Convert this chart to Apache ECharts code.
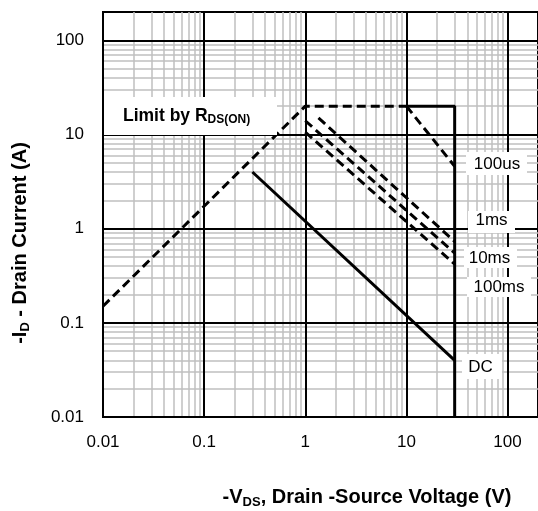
<!DOCTYPE html>
<html><head><meta charset="utf-8">
<script src="https://cdn.jsdelivr.net/npm/echarts@6/dist/echarts.min.js"></script>
<style>html,body{margin:0;padding:0;background:#fff}#c{width:538px;height:511px}</style>
</head><body><div id="c"></div>
<script>
// ---- data ----
const xTicks = [0.01, 0.1, 1, 10, 100];
const xTickLabels = ['0.01', '0.1', '1', '10', '100'];
const yTicks = [0.01, 0.1, 1, 10, 100];
const yTickLabels = ['0.01', '0.1', '1', '10', '100'];
const minorMultipliers = [2, 3, 4, 5, 6, 7, 8, 9];
const minorDecades = [0.01, 0.1, 1, 10];

const limitRds = [[0.01, 0.15], [1, 20], [10, 20]];
const pulse100us = [[10, 20], [30, 4.6]];
const pulse1ms = [[1.35, 15], [30, 0.73]];
const pulse10ms = [[1, 14], [30, 0.55]];
const pulse100ms = [[1, 10.6], [30, 0.42]];
const dcLine = [[0.3, 4], [30, 0.04]];
const boundary = [[10, 20], [30, 20], [30, 0.01]];

const FONT = "'Liberation Sans', Arial, sans-serif";
const minorVals = [];
minorDecades.forEach(d => minorMultipliers.forEach(m => minorVals.push(+(m * d).toPrecision(3))));

function labelFor(ticks, labels) {
  return function (v) {
    for (let i = 0; i < ticks.length; i++) {
      if (Math.abs(Math.log10(v) - Math.log10(ticks[i])) < 1e-6) return labels[i];
    }
    return '';
  };
}

const dash = { color: '#000', width: 3, type: [9, 5] };
const solid = { color: '#000', width: 3, type: 'solid' };

function curve(name, data, style) {
  return { name, type: 'line', data, showSymbol: false, symbol: 'none', lineStyle: style, z: 5, silent: true };
}

function titleRich(main, sub) {
  return {
    a: { fontSize: main, fontWeight: 'bold', fontFamily: FONT, fill: '#000', lineHeight: 24 },
    s: { fontSize: sub, fontWeight: 'bold', fontFamily: FONT, fill: '#000', lineHeight: 12, verticalAlign: 'bottom' }
  };
}

const chart = echarts.init(document.getElementById('c'), null, { renderer: 'canvas' });
chart.setOption({
  animation: false,
  backgroundColor: '#fff',
  grid: { left: 103, right: -1, top: 12, bottom: 94, show: true, borderColor: '#000', borderWidth: 2, backgroundColor: 'transparent' },
  xAxis: {
    type: 'log', logBase: 10, min: 0.01, max: 200,
    axisLine: { show: false }, axisTick: { show: false }, splitLine: { show: false },
    axisLabel: { formatter: labelFor(xTicks, xTickLabels), fontSize: 17, color: '#000', fontFamily: FONT, margin: 17, showMaxLabel: false }
  },
  yAxis: {
    type: 'log', logBase: 10, min: 0.01, max: 200,
    axisLine: { show: false }, axisTick: { show: false }, splitLine: { show: false },
    axisLabel: { formatter: labelFor(yTicks, yTickLabels), fontSize: 17, color: '#000', fontFamily: FONT, margin: 19, showMaxLabel: false }
  },
  series: [
    {
      type: 'line', data: [], silent: true, z: 1,
      markLine: {
        silent: true, symbol: 'none', animation: false, label: { show: false },
        lineStyle: { color: '#bfbfbf', width: 1.5, type: 'solid' },
        data: minorVals.map(v => ({ xAxis: v })).concat(minorVals.map(v => ({ yAxis: v })))
      }
    },
    {
      type: 'line', data: [], silent: true, z: 2,
      markLine: {
        silent: true, symbol: 'none', animation: false, label: { show: false },
        lineStyle: { color: '#000', width: 2, type: 'solid' },
        data: xTicks.map(v => ({ xAxis: v })).concat(yTicks.map(v => ({ yAxis: v })))
      }
    },
    curve('Limit by RDS(ON)', limitRds, dash),
    curve('100us', pulse100us, dash),
    curve('1ms', pulse1ms, dash),
    curve('10ms', pulse10ms, dash),
    curve('100ms', pulse100ms, dash),
    curve('DC', dcLine, solid),
    curve('boundary', boundary, solid)
  ],
  graphic: [
    { type: 'rect', z: 100, shape: { x: 104, y: 97, width: 173, height: 38 }, style: { fill: '#fff' } },
    { type: 'text', z: 101, x: 123, y: 116, style: {
        text: '{a|Limit by R}{s|DS(ON)}', verticalAlign: 'middle', align: 'left',
        rich: {
          a: { fontSize: 17.5, fontWeight: 'bold', fontFamily: FONT, fill: '#000', lineHeight: 20 },
          s: { fontSize: 12, fontWeight: 'bold', fontFamily: FONT, fill: '#000', lineHeight: 10, verticalAlign: 'bottom' }
        } } },
    { type: 'rect', z: 100, shape: { x: 466, y: 152, width: 61, height: 23 }, style: { fill: '#fff' } },
    { type: 'text', z: 101, x: 497, y: 164, style: { text: '100us', font: '17px ' + FONT, fill: '#000', align: 'center', verticalAlign: 'middle' } },
    { type: 'rect', z: 100, shape: { x: 468, y: 211, width: 47, height: 22 }, style: { fill: '#fff' } },
    { type: 'text', z: 101, x: 491.5, y: 220, style: { text: '1ms', font: '17px ' + FONT, fill: '#000', align: 'center', verticalAlign: 'middle' } },
    { type: 'rect', z: 100, shape: { x: 464, y: 247, width: 53, height: 21 }, style: { fill: '#fff' } },
    { type: 'text', z: 101, x: 489.5, y: 258, style: { text: '10ms', font: '17px ' + FONT, fill: '#000', align: 'center', verticalAlign: 'middle' } },
    { type: 'rect', z: 100, shape: { x: 467, y: 277, width: 64, height: 20 }, style: { fill: '#fff' } },
    { type: 'text', z: 101, x: 499, y: 287, style: { text: '100ms', font: '17px ' + FONT, fill: '#000', align: 'center', verticalAlign: 'middle' } },
    { type: 'rect', z: 100, shape: { x: 462, y: 354, width: 40, height: 25 }, style: { fill: '#fff' } },
    { type: 'text', z: 101, x: 480.5, y: 367, style: { text: 'DC', font: '17px ' + FONT, fill: '#000', align: 'center', verticalAlign: 'middle' } },
    { type: 'text', z: 101, x: 367, y: 497, style: {
        text: '{a|-V}{s|DS}{a|, Drain -Source Voltage (V)}', align: 'center', verticalAlign: 'middle',
        rich: titleRich(20, 13) } },
    { type: 'text', z: 101, x: 20, y: 243, rotation: Math.PI / 2, style: {
        text: '{a|-I}{s|D}{a| - Drain Current (A)}', align: 'center', verticalAlign: 'middle',
        rich: titleRich(20, 13) } }
  ]
});
</script>
</body></html>
